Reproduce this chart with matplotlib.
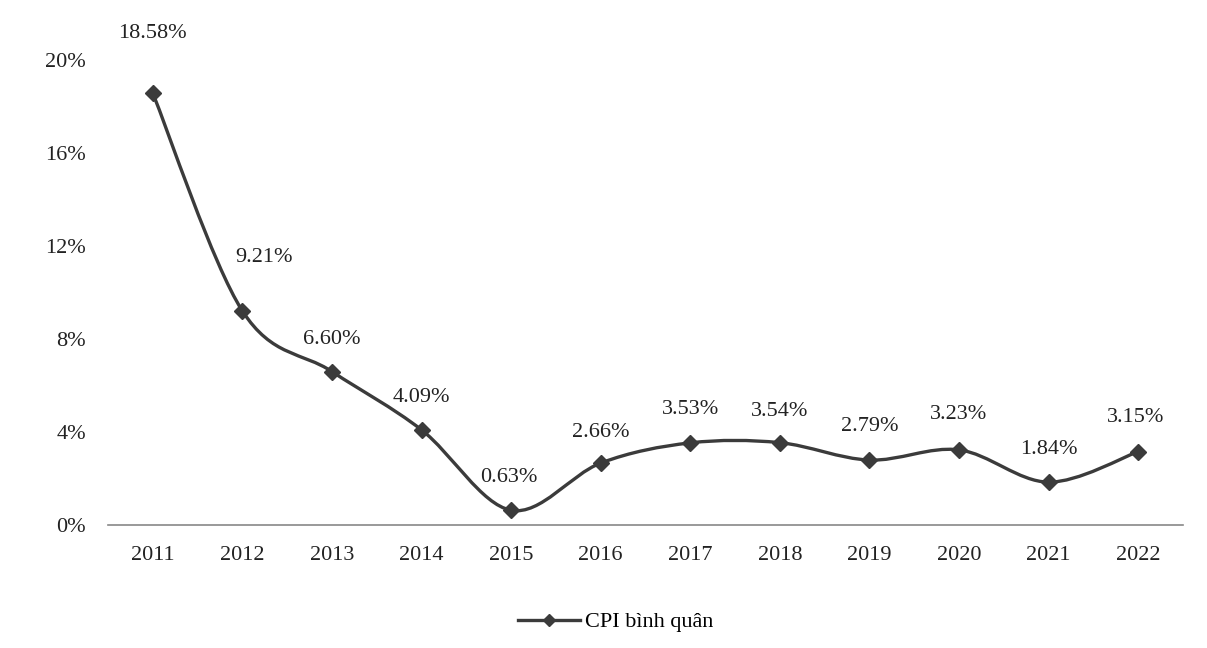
import matplotlib
matplotlib.use("Agg")
import matplotlib.pyplot as plt
from matplotlib.path import Path
from matplotlib.patches import PathPatch
from matplotlib.lines import Line2D
import numpy as np

years = ["2011", "2012", "2013", "2014", "2015", "2016", "2017", "2018", "2019", "2020", "2021", "2022"]
cpi = [18.58, 9.21, 6.60, 4.09, 0.63, 2.66, 3.53, 3.54, 2.79, 3.23, 1.84, 3.15]
labels = ["18.58%", "9.21%", "6.60%", "4.09%", "0.63%", "2.66%", "3.53%", "3.54%", "2.79%", "3.23%", "1.84%", "3.15%"]
yticks = [0, 4, 8, 12, 16, 20]
ytick_labels = ["0%", "4%", "8%", "12%", "16%", "20%"]

plt.rcParams['font.family'] = ['Liberation Serif', 'DejaVu Serif']
color = '#3b3b3b'
fs = 16

fig = plt.figure(figsize=(12.07, 6.48), dpi=100)
ax = fig.add_axes([0.0895, 0.19, 0.8905, 0.717])

x = np.arange(len(years))
y = np.array(cpi)

# smooth line as Bezier path (Catmull-Rom style control points)
verts = [(x[0], y[0])]
codes = [Path.MOVETO]
t = 1 / 6
for i in range(len(x) - 1):
    p0 = (x[i - 1], y[i - 1]) if i > 0 else (x[i], y[i])
    p1 = (x[i], y[i])
    p2 = (x[i + 1], y[i + 1])
    p3 = (x[i + 2], y[i + 2]) if i + 2 < len(x) else (x[i + 1], y[i + 1])
    c1 = (p1[0] + (p2[0] - p0[0]) * t, p1[1] + (p2[1] - p0[1]) * t)
    c2 = (p2[0] - (p3[0] - p1[0]) * t, p2[1] - (p3[1] - p1[1]) * t)
    verts += [c1, c2, p2]
    codes += [Path.CURVE4] * 3
ax.add_patch(PathPatch(Path(verts, codes), facecolor='none', edgecolor=color, lw=2.4, zorder=2))
ax.plot(x, y, linestyle='none', marker='D', markersize=8, color=color, zorder=3)

offsets = [(0, 50), (22, 44), (0, 23), (0, 23), (-2, 23), (0, 21), (0, 24), (0, 22), (0, 24), (0, 26), (0, 23), (-2, 25)]
for xi, yi, lab, off in zip(x, y, labels, offsets):
    ax.annotate(lab, (xi, yi), xytext=off, textcoords='offset pixels',
                ha='center', va='bottom', fontsize=fs, color='#222222')

ax.set_xlim(-0.5, 11.5)
ax.set_ylim(0, 20)
ax.set_xticks(x)
ax.set_xticklabels(years, fontsize=fs, color='#222222')
ax.set_yticks(yticks)
ax.set_yticklabels(ytick_labels, fontsize=fs, color='#222222')
ax.tick_params(axis='x', length=0, pad=15)
ax.tick_params(axis='y', length=0, pad=16)
for s in ['left', 'right', 'top']:
    ax.spines[s].set_visible(False)
ax.spines['bottom'].set_color('#888888')
ax.spines['bottom'].set_linewidth(1.2)

handle = Line2D([], [], color=color, lw=2.4, marker='D', markersize=6)
fig.legend([handle], ["CPI bình quân"], loc='center', bbox_to_anchor=(0.51, 0.04),
           frameon=False, fontsize=fs, handlelength=2.8, handletextpad=0.2)

fig.savefig("out.png", dpi=100, facecolor='white')
